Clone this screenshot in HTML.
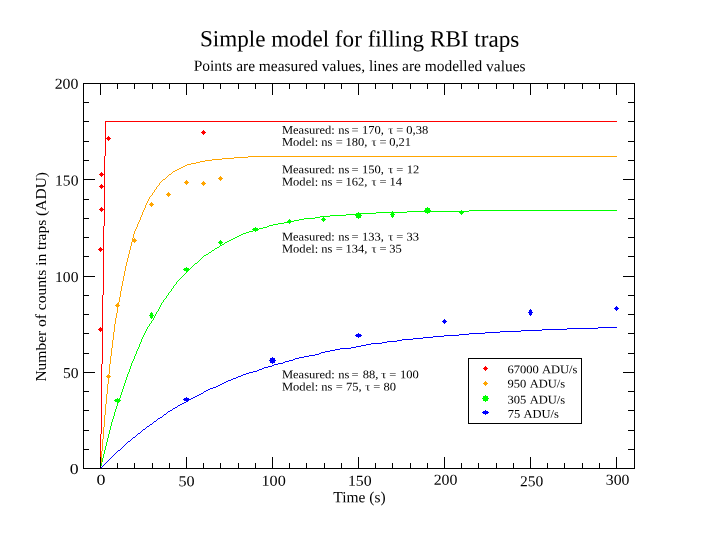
<!DOCTYPE html>
<html><head><meta charset="utf-8"><title>Simple model for filling RBI traps</title>
<style>html,body{margin:0;padding:0;background:#fff}svg{display:block;will-change:transform}text{font-family:"Liberation Serif",serif;fill:#000;white-space:pre}</style></head><body>
<svg width="713" height="551" viewBox="0 0 713 551">
<rect width="713" height="551" fill="#fff"/>
<path d="M598,327h19v1h-19zM567,328h31v1h-31zM542,329h25v1h-25zM521,330h21v1h-21zM500,331h21v1h-21zM485,332h15v1h-15zM469,333h16v1h-16zM459,334h10v1h-10zM444,335h15v1h-15zM433,336h11v1h-11zM423,337h10v1h-10zM413,338h10v1h-10zM402,339h11v1h-11zM397,340h5v1h-5zM387,341h10v1h-10zM382,342h5v1h-5zM371,343h11v1h-11zM366,344h5v1h-5zM361,345h5v1h-5zM356,346h5v1h-5zM351,347h5v1h-5zM340,348h11v1h-11zM335,349h5v1h-5zM330,350h5v1h-5zM325,351h5v1h-5zM321,352h4v1h-4zM319,353h2v1h-2zM315,354h4v1h-4zM309,355h6v1h-6zM304,356h5v1h-5zM299,357h5v1h-5zM295,358h4v1h-4zM293,359h2v1h-2zM289,360h4v1h-4zM285,361h4v1h-4zM283,362h2v1h-2zM278,363h5v1h-5zM274,364h4v1h-4zM272,365h2v1h-2zM268,366h4v1h-4zM264,367h4v1h-4zM262,368h2v1h-2zM259,369h3v1h-3zM257,370h2v1h-2zM253,371h4v1h-4zM249,372h4v1h-4zM246,373h3v1h-3zM243,374h3v1h-3zM241,375h2v1h-2zM238,376h3v1h-3zM236,377h2v1h-2zM233,378h3v1h-3zM231,379h2v1h-2zM228,380h3v1h-3zM226,381h2v1h-2zM224,382h2v1h-2zM222,383h2v1h-2zM220,384h2v1h-2zM218,385h2v1h-2zM216,386h2v1h-2zM213,387h3v1h-3zM210,388h3v1h-3zM208,389h2v1h-2zM206,390h2v1h-2zM204,391h2v1h-2zM203,392h1v1h-1zM201,393h2v1h-2zM199,394h2v1h-2zM197,395h2v1h-2zM195,396h2v1h-2zM193,397h2v1h-2zM191,398h2v1h-2zM189,399h2v1h-2zM188,400h1v1h-1zM186,401h2v1h-2zM184,402h2v1h-2zM182,403h2v1h-2zM180,404h2v1h-2zM178,405h2v1h-2zM177,406h1v1h-1zM175,407h2v1h-2zM173,408h2v1h-2zM172,409h1v1h-1zM170,410h2v1h-2zM168,411h2v1h-2zM167,412h1v1h-1zM166,413h1v1h-1zM164,414h2v1h-2zM163,415h1v1h-1zM162,416h1v1h-1zM160,417h2v1h-2zM158,418h2v1h-2zM157,419h1v1h-1zM156,420h1v1h-1zM154,421h2v1h-2zM153,422h1v1h-1zM152,423h1v1h-1zM150,424h2v1h-2zM149,425h1v1h-1zM147,426h2v1h-2zM146,427h1v1h-1zM145,428h1v1h-1zM143,429h2v1h-2zM142,430h1v1h-1zM141,431h1v1h-1zM140,432h1v1h-1zM138,433h2v1h-2zM137,434h1v1h-1zM136,435h1v1h-1zM135,436h1v1h-1zM133,437h2v1h-2zM132,438h1v1h-1zM131,439h1v1h-1zM130,440h1v1h-1zM128,441h2v1h-2zM127,442h1v1h-1zM126,443h1v1h-1zM125,444h1v1h-1zM124,445h1v1h-1zM123,446h1v1h-1zM122,447h1v1h-1zM121,448h1v1h-1zM120,449h1v1h-1zM118,450h2v1h-2zM117,451h1v1h-1zM116,452h1v1h-1zM115,453h1v1h-1zM114,454h1v1h-1zM113,455h1v1h-1zM112,456h1v1h-1zM111,457h1v1h-1zM110,458h1v1h-1zM109,459h1v1h-1zM108,460h1v1h-1zM107,461h1v1h-1zM106,462h1v1h-1zM105,463h1v1h-1zM104,464h1v1h-1zM103,465h1v1h-1zM102,466h1v1h-1zM101,467h1v1h-1zM100,468h1v1h-1z" fill="#0000ff" shape-rendering="crispEdges"/>
<path d="M469,210h148v1h-148zM407,211h62v1h-62zM376,212h31v1h-31zM356,213h20v1h-20zM346,214h10v1h-10zM330,215h16v1h-16zM320,216h10v1h-10zM315,217h5v1h-5zM304,218h11v1h-11zM299,219h5v1h-5zM294,220h5v1h-5zM289,221h5v1h-5zM284,222h5v1h-5zM278,223h6v1h-6zM273,224h5v1h-5zM269,225h4v1h-4zM267,226h2v1h-2zM263,227h4v1h-4zM259,228h4v1h-4zM257,229h2v1h-2zM253,230h4v1h-4zM249,231h4v1h-4zM246,232h3v1h-3zM243,233h3v1h-3zM241,234h2v1h-2zM239,235h2v1h-2zM237,236h2v1h-2zM235,237h2v1h-2zM233,238h2v1h-2zM231,239h2v1h-2zM229,240h2v1h-2zM227,241h2v1h-2zM225,242h2v1h-2zM224,243h1v1h-1zM222,244h2v1h-2zM220,245h2v1h-2zM219,246h1v1h-1zM217,247h2v1h-2zM215,248h2v1h-2zM214,249h1v1h-1zM212,250h2v1h-2zM211,251h1v1h-1zM209,252h2v1h-2zM208,253h1v1h-1zM206,254h2v1h-2zM204,255h2v1h-2zM203,256h1v1h-1zM202,257h1v1h-1zM201,258h1v1h-1zM200,259h1v1h-1zM199,260h1v1h-1zM198,261h1v1h-1zM197,262h1v1h-1zM195,263h2v1h-2zM194,264h1v1h-1zM193,265h1v1h-1zM192,266h1v1h-1zM191,267h1v1h-1zM190,268h1v1h-1zM189,269h1v1h-1zM188,270h1v1h-1zM187,271h1v1h-1zM186,272h1v1h-1zM185,273h1v1h-1zM184,274h1v1h-1zM183,275h1v1h-1zM182,276h1v1h-1zM181,277h1v1h-1zM180,278h1v1h-1zM179,279h1v1h-1zM178,280h1v1h-1zM177,281h1v1h-1zM176,282h1v1h-1zM176,283h1v1h-1zM175,284h1v1h-1zM174,285h1v1h-1zM173,286h1v1h-1zM173,287h1v1h-1zM172,288h1v1h-1zM171,289h1v1h-1zM171,290h1v1h-1zM170,291h1v1h-1zM169,292h1v1h-1zM168,293h1v1h-1zM168,294h1v1h-1zM167,295h1v1h-1zM166,296h1v1h-1zM166,297h1v1h-1zM165,298h1v1h-1zM164,299h1v1h-1zM163,300h1v1h-1zM163,301h1v1h-1zM162,302h1v1h-1zM161,303h1v1h-1zM161,304h1v1h-1zM160,305h1v1h-1zM160,306h1v1h-1zM159,307h1v1h-1zM159,308h1v1h-1zM158,309h1v1h-1zM158,310h1v1h-1zM157,311h1v1h-1zM156,312h1v1h-1zM156,313h1v1h-1zM155,314h1v1h-1zM155,315h1v1h-1zM154,316h1v1h-1zM154,317h1v1h-1zM153,318h1v1h-1zM153,319h1v1h-1zM152,320h1v1h-1zM151,321h1v1h-1zM151,322h1v1h-1zM150,323h1v1h-1zM149,324h1v1h-1zM149,325h1v1h-1zM148,326h1v1h-1zM147,327h1v1h-1zM147,328h1v1h-1zM146,329h1v1h-1zM146,330h1v1h-1zM145,331h1v1h-1zM145,332h1v1h-1zM144,333h1v1h-1zM144,334h1v1h-1zM143,335h1v1h-1zM143,336h1v1h-1zM142,337h1v1h-1zM142,338h1v1h-1zM141,339h1v1h-1zM141,340h1v1h-1zM141,341h1v1h-1zM140,342h1v1h-1zM140,343h1v1h-1zM139,344h1v1h-1zM139,345h1v1h-1zM139,346h1v1h-1zM138,347h1v1h-1zM138,348h1v1h-1zM137,349h1v1h-1zM137,350h1v1h-1zM136,351h1v1h-1zM136,352h1v1h-1zM136,353h1v1h-1zM135,354h1v1h-1zM135,355h1v1h-1zM134,356h1v1h-1zM134,357h1v1h-1zM134,358h1v1h-1zM133,359h1v1h-1zM133,360h1v1h-1zM132,361h1v1h-1zM132,362h1v1h-1zM131,363h1v1h-1zM131,364h1v1h-1zM131,365h1v1h-1zM130,366h1v1h-1zM130,367h1v1h-1zM130,368h1v1h-1zM129,369h1v1h-1zM129,370h1v1h-1zM129,371h1v1h-1zM128,372h1v1h-1zM128,373h1v1h-1zM127,374h1v1h-1zM127,375h1v1h-1zM127,376h1v1h-1zM126,377h1v1h-1zM126,378h1v1h-1zM126,379h1v1h-1zM125,380h1v1h-1zM125,381h1v1h-1zM125,382h1v1h-1zM124,383h1v1h-1zM124,384h1v1h-1zM124,385h1v1h-1zM123,386h1v1h-1zM123,387h1v1h-1zM123,388h1v1h-1zM122,389h1v1h-1zM122,390h1v1h-1zM122,391h1v1h-1zM121,392h1v1h-1zM121,393h1v1h-1zM121,394h1v1h-1zM120,395h1v1h-1zM120,396h1v1h-1zM120,397h1v1h-1zM119,398h1v1h-1zM119,399h1v1h-1zM119,400h1v1h-1zM118,401h1v1h-1zM118,402h1v1h-1zM117,403h1v1h-1zM117,404h1v1h-1zM117,405h1v1h-1zM116,406h1v1h-1zM116,407h1v1h-1zM116,408h1v1h-1zM115,409h1v1h-1zM115,410h1v1h-1zM115,411h1v1h-1zM114,412h1v1h-1zM114,413h1v1h-1zM114,414h1v1h-1zM114,415h1v1h-1zM113,416h1v1h-1zM113,417h1v1h-1zM113,418h1v1h-1zM112,419h1v1h-1zM112,420h1v1h-1zM112,421h1v1h-1zM111,422h1v1h-1zM111,423h1v1h-1zM111,424h1v1h-1zM111,425h1v1h-1zM110,426h1v1h-1zM110,427h1v1h-1zM110,428h1v1h-1zM110,429h1v1h-1zM109,430h1v1h-1zM109,431h1v1h-1zM109,432h1v1h-1zM109,433h1v1h-1zM108,434h1v1h-1zM108,435h1v1h-1zM108,436h1v1h-1zM108,437h1v1h-1zM107,438h1v1h-1zM107,439h1v1h-1zM107,440h1v1h-1zM107,441h1v1h-1zM106,442h1v1h-1zM106,443h1v1h-1zM106,444h1v1h-1zM106,445h1v1h-1zM105,446h1v1h-1zM105,447h1v1h-1zM105,448h1v1h-1zM105,449h1v1h-1zM104,450h1v1h-1zM104,451h1v1h-1zM104,452h1v1h-1zM104,453h1v1h-1zM103,454h1v1h-1zM103,455h1v1h-1zM103,456h1v1h-1zM103,457h1v1h-1zM102,458h1v1h-1zM102,459h1v1h-1zM102,460h1v1h-1zM102,461h1v1h-1zM101,462h1v1h-1zM101,463h1v1h-1zM101,464h1v1h-1zM101,465h1v1h-1zM100,466h1v1h-1zM100,467h1v1h-1zM100,468h1v1h-1z" fill="#00ff00" shape-rendering="crispEdges"/>
<path d="M248,156h369v1h-369zM234,157h14v1h-14zM222,158h12v1h-12zM212,159h10v1h-10zM205,160h7v1h-7zM200,161h5v1h-5zM196,162h4v1h-4zM191,163h5v1h-5zM187,164h4v1h-4zM185,165h2v1h-2zM183,166h2v1h-2zM181,167h2v1h-2zM179,168h2v1h-2zM177,169h2v1h-2zM175,170h2v1h-2zM173,171h2v1h-2zM172,172h1v1h-1zM171,173h1v1h-1zM169,174h2v1h-2zM168,175h1v1h-1zM167,176h1v1h-1zM166,177h1v1h-1zM165,178h1v1h-1zM163,179h2v1h-2zM162,180h1v1h-1zM161,181h1v1h-1zM160,182h1v1h-1zM159,183h1v1h-1zM159,184h1v1h-1zM158,185h1v1h-1zM157,186h1v1h-1zM156,187h1v1h-1zM156,188h1v1h-1zM155,189h1v1h-1zM154,190h1v1h-1zM154,191h1v1h-1zM153,192h1v1h-1zM152,193h1v1h-1zM152,194h1v1h-1zM151,195h1v1h-1zM150,196h1v1h-1zM149,197h1v1h-1zM149,198h1v1h-1zM148,199h1v1h-1zM148,200h1v1h-1zM147,201h1v1h-1zM147,202h1v1h-1zM146,203h1v1h-1zM146,204h1v1h-1zM145,205h1v1h-1zM145,206h1v1h-1zM145,207h1v1h-1zM144,208h1v1h-1zM144,209h1v1h-1zM143,210h1v1h-1zM143,211h1v1h-1zM142,212h1v1h-1zM142,213h1v1h-1zM142,214h1v1h-1zM141,215h1v1h-1zM141,216h1v1h-1zM140,217h1v1h-1zM140,218h1v1h-1zM140,219h1v1h-1zM139,220h1v1h-1zM139,221h1v1h-1zM138,222h1v1h-1zM138,223h1v1h-1zM137,224h1v1h-1zM137,225h1v1h-1zM137,226h1v1h-1zM136,227h1v1h-1zM136,228h1v1h-1zM135,229h1v1h-1zM135,230h1v1h-1zM134,231h1v1h-1zM134,232h1v1h-1zM134,233h1v1h-1zM133,234h1v1h-1zM133,235h1v1h-1zM133,236h1v1h-1zM133,237h1v1h-1zM132,238h1v1h-1zM132,239h1v1h-1zM132,240h1v1h-1zM132,241h1v1h-1zM131,242h1v1h-1zM131,243h1v1h-1zM131,244h1v1h-1zM131,245h1v1h-1zM130,246h1v1h-1zM130,247h1v1h-1zM130,248h1v1h-1zM130,249h1v1h-1zM129,250h1v1h-1zM129,251h1v1h-1zM129,252h1v1h-1zM129,253h1v1h-1zM128,254h1v1h-1zM128,255h1v1h-1zM128,256h1v1h-1zM128,257h1v1h-1zM127,258h1v1h-1zM127,259h1v1h-1zM127,260h1v1h-1zM127,261h1v1h-1zM126,262h1v1h-1zM126,263h1v1h-1zM126,264h1v1h-1zM126,265h1v1h-1zM125,266h1v1h-1zM125,267h1v1h-1zM125,268h1v1h-1zM125,269h1v1h-1zM125,270h1v1h-1zM124,271h1v1h-1zM124,272h1v1h-1zM124,273h1v1h-1zM124,274h1v1h-1zM124,275h1v1h-1zM123,276h1v1h-1zM123,277h1v1h-1zM123,278h1v1h-1zM123,279h1v1h-1zM123,280h1v1h-1zM122,281h1v1h-1zM122,282h1v1h-1zM122,283h1v1h-1zM122,284h1v1h-1zM122,285h1v1h-1zM121,286h1v1h-1zM121,287h1v1h-1zM121,288h1v1h-1zM121,289h1v1h-1zM121,290h1v1h-1zM120,291h1v1h-1zM120,292h1v1h-1zM120,293h1v1h-1zM120,294h1v1h-1zM120,295h1v1h-1zM120,296h1v1h-1zM119,297h1v1h-1zM119,298h1v1h-1zM119,299h1v1h-1zM119,300h1v1h-1zM119,301h1v1h-1zM118,302h1v1h-1zM118,303h1v1h-1zM118,304h1v1h-1zM118,305h1v1h-1zM118,306h1v1h-1zM117,307h1v1h-1zM117,308h1v1h-1zM117,309h1v1h-1zM117,310h1v1h-1zM117,311h1v1h-1zM117,312h1v1h-1zM116,313h1v1h-1zM116,314h1v1h-1zM116,315h1v1h-1zM116,316h1v1h-1zM116,317h1v1h-1zM115,318h1v1h-1zM115,319h1v1h-1zM115,320h1v1h-1zM115,321h1v1h-1zM115,322h1v1h-1zM115,323h1v1h-1zM114,324h1v1h-1zM114,325h1v1h-1zM114,326h1v1h-1zM114,327h1v1h-1zM114,328h1v1h-1zM114,329h1v1h-1zM114,330h1v1h-1zM114,331h1v1h-1zM113,332h1v1h-1zM113,333h1v1h-1zM113,334h1v1h-1zM113,335h1v1h-1zM113,336h1v1h-1zM113,337h1v1h-1zM113,338h1v1h-1zM113,339h1v1h-1zM112,340h1v1h-1zM112,341h1v1h-1zM112,342h1v1h-1zM112,343h1v1h-1zM112,344h1v1h-1zM112,345h1v1h-1zM112,346h1v1h-1zM112,347h1v1h-1zM111,348h1v1h-1zM111,349h1v1h-1zM111,350h1v1h-1zM111,351h1v1h-1zM111,352h1v1h-1zM111,353h1v1h-1zM111,354h1v1h-1zM111,355h1v1h-1zM110,356h1v1h-1zM110,357h1v1h-1zM110,358h1v1h-1zM110,359h1v1h-1zM110,360h1v1h-1zM110,361h1v1h-1zM110,362h1v1h-1zM110,363h1v1h-1zM109,364h1v1h-1zM109,365h1v1h-1zM109,366h1v1h-1zM109,367h1v1h-1zM109,368h1v1h-1zM109,369h1v1h-1zM109,370h1v1h-1zM109,371h1v1h-1zM109,372h1v1h-1zM109,373h1v1h-1zM108,374h1v1h-1zM108,375h1v1h-1zM108,376h1v1h-1zM108,377h1v1h-1zM108,378h1v1h-1zM108,379h1v1h-1zM108,380h1v1h-1zM108,381h1v1h-1zM108,382h1v1h-1zM108,383h1v1h-1zM107,384h1v1h-1zM107,385h1v1h-1zM107,386h1v1h-1zM107,387h1v1h-1zM107,388h1v1h-1zM107,389h1v1h-1zM107,390h1v1h-1zM107,391h1v1h-1zM107,392h1v1h-1zM107,393h1v1h-1zM106,394h1v1h-1zM106,395h1v1h-1zM106,396h1v1h-1zM106,397h1v1h-1zM106,398h1v1h-1zM106,399h1v1h-1zM106,400h1v1h-1zM106,401h1v1h-1zM106,402h1v1h-1zM106,403h1v1h-1zM105,404h1v1h-1zM105,405h1v1h-1zM105,406h1v1h-1zM105,407h1v1h-1zM105,408h1v1h-1zM105,409h1v1h-1zM105,410h1v1h-1zM105,411h1v1h-1zM105,412h1v1h-1zM105,413h1v1h-1zM105,414h1v1h-1zM104,415h1v1h-1zM104,416h1v1h-1zM104,417h1v1h-1zM104,418h1v1h-1zM104,419h1v1h-1zM104,420h1v1h-1zM104,421h1v1h-1zM104,422h1v1h-1zM104,423h1v1h-1zM104,424h1v1h-1zM104,425h1v1h-1zM104,426h1v1h-1zM103,427h1v1h-1zM103,428h1v1h-1zM103,429h1v1h-1zM103,430h1v1h-1zM103,431h1v1h-1zM103,432h1v1h-1zM103,433h1v1h-1zM103,434h1v1h-1zM103,435h1v1h-1zM103,436h1v1h-1zM103,437h1v1h-1zM103,438h1v1h-1zM102,439h1v1h-1zM102,440h1v1h-1zM102,441h1v1h-1zM102,442h1v1h-1zM102,443h1v1h-1zM102,444h1v1h-1zM102,445h1v1h-1zM102,446h1v1h-1zM102,447h1v1h-1zM102,448h1v1h-1zM102,449h1v1h-1zM102,450h1v1h-1zM101,451h1v1h-1zM101,452h1v1h-1zM101,453h1v1h-1zM101,454h1v1h-1zM101,455h1v1h-1zM101,456h1v1h-1zM101,457h1v1h-1zM101,458h1v1h-1zM101,459h1v1h-1zM101,460h1v1h-1zM101,461h1v1h-1zM101,462h1v1h-1zM100,463h1v1h-1zM100,464h1v1h-1zM100,465h1v1h-1zM100,466h1v1h-1zM100,467h1v1h-1zM100,468h1v1h-1z" fill="#ffa500" shape-rendering="crispEdges"/>
<path d="M105,121h512v1h-512zM105,122h1v1h-1zM105,123h1v1h-1zM105,124h1v1h-1zM105,125h1v1h-1zM105,126h1v1h-1zM105,127h1v1h-1zM105,128h1v1h-1zM105,129h1v1h-1zM105,130h1v1h-1zM105,131h1v1h-1zM105,132h1v1h-1zM105,133h1v1h-1zM105,134h1v1h-1zM105,135h1v1h-1zM105,136h1v1h-1zM105,137h1v1h-1zM105,138h1v1h-1zM105,139h1v1h-1zM105,140h1v1h-1zM105,141h1v1h-1zM105,142h1v1h-1zM105,143h1v1h-1zM105,144h1v1h-1zM105,145h1v1h-1zM105,146h1v1h-1zM105,147h1v1h-1zM105,148h1v1h-1zM105,149h1v1h-1zM105,150h1v1h-1zM105,151h1v1h-1zM105,152h1v1h-1zM105,153h1v1h-1zM105,154h1v1h-1zM105,155h1v1h-1zM104,156h1v1h-1zM104,157h1v1h-1zM104,158h1v1h-1zM104,159h1v1h-1zM104,160h1v1h-1zM104,161h1v1h-1zM104,162h1v1h-1zM104,163h1v1h-1zM104,164h1v1h-1zM104,165h1v1h-1zM104,166h1v1h-1zM104,167h1v1h-1zM104,168h1v1h-1zM104,169h1v1h-1zM104,170h1v1h-1zM104,171h1v1h-1zM104,172h1v1h-1zM104,173h1v1h-1zM104,174h1v1h-1zM104,175h1v1h-1zM104,176h1v1h-1zM104,177h1v1h-1zM104,178h1v1h-1zM104,179h1v1h-1zM104,180h1v1h-1zM104,181h1v1h-1zM104,182h1v1h-1zM104,183h1v1h-1zM104,184h1v1h-1zM104,185h1v1h-1zM104,186h1v1h-1zM104,187h1v1h-1zM104,188h1v1h-1zM104,189h1v1h-1zM104,190h1v1h-1zM104,191h1v1h-1zM104,192h1v1h-1zM104,193h1v1h-1zM104,194h1v1h-1zM104,195h1v1h-1zM104,196h1v1h-1zM104,197h1v1h-1zM104,198h1v1h-1zM104,199h1v1h-1zM104,200h1v1h-1zM104,201h1v1h-1zM104,202h1v1h-1zM104,203h1v1h-1zM104,204h1v1h-1zM104,205h1v1h-1zM104,206h1v1h-1zM104,207h1v1h-1zM104,208h1v1h-1zM104,209h1v1h-1zM104,210h1v1h-1zM104,211h1v1h-1zM104,212h1v1h-1zM104,213h1v1h-1zM104,214h1v1h-1zM104,215h1v1h-1zM104,216h1v1h-1zM104,217h1v1h-1zM104,218h1v1h-1zM104,219h1v1h-1zM104,220h1v1h-1zM104,221h1v1h-1zM104,222h1v1h-1zM104,223h1v1h-1zM104,224h1v1h-1zM104,225h1v1h-1zM103,226h1v1h-1zM103,227h1v1h-1zM103,228h1v1h-1zM103,229h1v1h-1zM103,230h1v1h-1zM103,231h1v1h-1zM103,232h1v1h-1zM103,233h1v1h-1zM103,234h1v1h-1zM103,235h1v1h-1zM103,236h1v1h-1zM103,237h1v1h-1zM103,238h1v1h-1zM103,239h1v1h-1zM103,240h1v1h-1zM103,241h1v1h-1zM103,242h1v1h-1zM103,243h1v1h-1zM103,244h1v1h-1zM103,245h1v1h-1zM103,246h1v1h-1zM103,247h1v1h-1zM103,248h1v1h-1zM103,249h1v1h-1zM103,250h1v1h-1zM103,251h1v1h-1zM103,252h1v1h-1zM103,253h1v1h-1zM103,254h1v1h-1zM103,255h1v1h-1zM103,256h1v1h-1zM103,257h1v1h-1zM103,258h1v1h-1zM103,259h1v1h-1zM103,260h1v1h-1zM103,261h1v1h-1zM103,262h1v1h-1zM103,263h1v1h-1zM103,264h1v1h-1zM103,265h1v1h-1zM103,266h1v1h-1zM103,267h1v1h-1zM103,268h1v1h-1zM103,269h1v1h-1zM103,270h1v1h-1zM103,271h1v1h-1zM103,272h1v1h-1zM103,273h1v1h-1zM103,274h1v1h-1zM103,275h1v1h-1zM103,276h1v1h-1zM103,277h1v1h-1zM103,278h1v1h-1zM103,279h1v1h-1zM103,280h1v1h-1zM103,281h1v1h-1zM103,282h1v1h-1zM103,283h1v1h-1zM103,284h1v1h-1zM103,285h1v1h-1zM103,286h1v1h-1zM103,287h1v1h-1zM103,288h1v1h-1zM103,289h1v1h-1zM103,290h1v1h-1zM103,291h1v1h-1zM103,292h1v1h-1zM103,293h1v1h-1zM103,294h1v1h-1zM102,295h1v1h-1zM102,296h1v1h-1zM102,297h1v1h-1zM102,298h1v1h-1zM102,299h1v1h-1zM102,300h1v1h-1zM102,301h1v1h-1zM102,302h1v1h-1zM102,303h1v1h-1zM102,304h1v1h-1zM102,305h1v1h-1zM102,306h1v1h-1zM102,307h1v1h-1zM102,308h1v1h-1zM102,309h1v1h-1zM102,310h1v1h-1zM102,311h1v1h-1zM102,312h1v1h-1zM102,313h1v1h-1zM102,314h1v1h-1zM102,315h1v1h-1zM102,316h1v1h-1zM102,317h1v1h-1zM102,318h1v1h-1zM102,319h1v1h-1zM102,320h1v1h-1zM102,321h1v1h-1zM102,322h1v1h-1zM102,323h1v1h-1zM102,324h1v1h-1zM102,325h1v1h-1zM102,326h1v1h-1zM102,327h1v1h-1zM102,328h1v1h-1zM102,329h1v1h-1zM102,330h1v1h-1zM102,331h1v1h-1zM102,332h1v1h-1zM102,333h1v1h-1zM102,334h1v1h-1zM102,335h1v1h-1zM102,336h1v1h-1zM102,337h1v1h-1zM102,338h1v1h-1zM102,339h1v1h-1zM102,340h1v1h-1zM102,341h1v1h-1zM102,342h1v1h-1zM102,343h1v1h-1zM102,344h1v1h-1zM102,345h1v1h-1zM102,346h1v1h-1zM102,347h1v1h-1zM102,348h1v1h-1zM102,349h1v1h-1zM102,350h1v1h-1zM102,351h1v1h-1zM102,352h1v1h-1zM102,353h1v1h-1zM102,354h1v1h-1zM102,355h1v1h-1zM102,356h1v1h-1zM102,357h1v1h-1zM102,358h1v1h-1zM102,359h1v1h-1zM102,360h1v1h-1zM102,361h1v1h-1zM102,362h1v1h-1zM102,363h1v1h-1zM101,364h1v1h-1zM101,365h1v1h-1zM101,366h1v1h-1zM101,367h1v1h-1zM101,368h1v1h-1zM101,369h1v1h-1zM101,370h1v1h-1zM101,371h1v1h-1zM101,372h1v1h-1zM101,373h1v1h-1zM101,374h1v1h-1zM101,375h1v1h-1zM101,376h1v1h-1zM101,377h1v1h-1zM101,378h1v1h-1zM101,379h1v1h-1zM101,380h1v1h-1zM101,381h1v1h-1zM101,382h1v1h-1zM101,383h1v1h-1zM101,384h1v1h-1zM101,385h1v1h-1zM101,386h1v1h-1zM101,387h1v1h-1zM101,388h1v1h-1zM101,389h1v1h-1zM101,390h1v1h-1zM101,391h1v1h-1zM101,392h1v1h-1zM101,393h1v1h-1zM101,394h1v1h-1zM101,395h1v1h-1zM101,396h1v1h-1zM101,397h1v1h-1zM101,398h1v1h-1zM101,399h1v1h-1zM101,400h1v1h-1zM101,401h1v1h-1zM101,402h1v1h-1zM101,403h1v1h-1zM101,404h1v1h-1zM101,405h1v1h-1zM101,406h1v1h-1zM101,407h1v1h-1zM101,408h1v1h-1zM101,409h1v1h-1zM101,410h1v1h-1zM101,411h1v1h-1zM101,412h1v1h-1zM101,413h1v1h-1zM101,414h1v1h-1zM101,415h1v1h-1zM101,416h1v1h-1zM101,417h1v1h-1zM101,418h1v1h-1zM101,419h1v1h-1zM101,420h1v1h-1zM101,421h1v1h-1zM101,422h1v1h-1zM101,423h1v1h-1zM101,424h1v1h-1zM101,425h1v1h-1zM101,426h1v1h-1zM101,427h1v1h-1zM101,428h1v1h-1zM101,429h1v1h-1zM101,430h1v1h-1zM101,431h1v1h-1zM101,432h1v1h-1zM101,433h1v1h-1zM100,434h1v1h-1zM100,435h1v1h-1zM100,436h1v1h-1zM100,437h1v1h-1zM100,438h1v1h-1zM100,439h1v1h-1zM100,440h1v1h-1zM100,441h1v1h-1zM100,442h1v1h-1zM100,443h1v1h-1zM100,444h1v1h-1zM100,445h1v1h-1zM100,446h1v1h-1zM100,447h1v1h-1zM100,448h1v1h-1zM100,449h1v1h-1zM100,450h1v1h-1zM100,451h1v1h-1zM100,452h1v1h-1zM100,453h1v1h-1zM100,454h1v1h-1zM100,455h1v1h-1zM100,456h1v1h-1zM100,457h1v1h-1zM100,458h1v1h-1zM100,459h1v1h-1zM100,460h1v1h-1zM100,461h1v1h-1zM100,462h1v1h-1zM100,463h1v1h-1zM100,464h1v1h-1zM100,465h1v1h-1zM100,466h1v1h-1zM100,467h1v1h-1zM100,468h1v1h-1z" fill="#ff0000" shape-rendering="crispEdges"/>
<g stroke="#000" stroke-width="1" fill="none" shape-rendering="crispEdges">
<rect x="83.5" y="83.5" width="551" height="385"/>
<path d="M100.5,468v-11M100.5,84v11M117.5,468v-5M117.5,84v5M134.5,468v-5M134.5,84v5M152.5,468v-5M152.5,84v5M169.5,468v-5M169.5,84v5M186.5,468v-11M186.5,84v11M203.5,468v-5M203.5,84v5M220.5,468v-5M220.5,84v5M238.5,468v-5M238.5,84v5M255.5,468v-5M255.5,84v5M272.5,468v-11M272.5,84v11M289.5,468v-5M289.5,84v5M306.5,468v-5M306.5,84v5M324.5,468v-5M324.5,84v5M341.5,468v-5M341.5,84v5M358.5,468v-11M358.5,84v11M375.5,468v-5M375.5,84v5M392.5,468v-5M392.5,84v5M410.5,468v-5M410.5,84v5M427.5,468v-5M427.5,84v5M444.5,468v-11M444.5,84v11M461.5,468v-5M461.5,84v5M478.5,468v-5M478.5,84v5M496.5,468v-5M496.5,84v5M513.5,468v-5M513.5,84v5M530.5,468v-11M530.5,84v11M547.5,468v-5M547.5,84v5M564.5,468v-5M564.5,84v5M582.5,468v-5M582.5,84v5M599.5,468v-5M599.5,84v5M616.5,468v-11M616.5,84v11M84,449.5h5M634,449.5h-6M84,430.5h5M634,430.5h-6M84,410.5h5M634,410.5h-6M84,391.5h5M634,391.5h-6M84,372.5h11M634,372.5h-11M84,353.5h5M634,353.5h-6M84,333.5h5M634,333.5h-6M84,314.5h5M634,314.5h-6M84,295.5h5M634,295.5h-6M84,276.5h11M634,276.5h-11M84,256.5h5M634,256.5h-6M84,237.5h5M634,237.5h-6M84,218.5h5M634,218.5h-6M84,199.5h5M634,199.5h-6M84,179.5h11M634,179.5h-11M84,160.5h5M634,160.5h-6M84,141.5h5M634,141.5h-6M84,121.5h5M634,121.5h-6M84,102.5h5M634,102.5h-6"/>
</g>
<path d="M100,327h1v1h-1zM99,328h3v1h-3zM98,329h5v1h-5zM99,330h3v1h-3zM100,331h1v1h-1zM100,247h1v1h-1zM99,248h3v1h-3zM98,249h5v1h-5zM99,250h3v1h-3zM100,251h1v1h-1zM101,207h1v1h-1zM100,208h3v1h-3zM99,209h5v1h-5zM100,210h3v1h-3zM101,211h1v1h-1zM101,184h1v1h-1zM100,185h3v1h-3zM99,186h5v1h-5zM100,187h3v1h-3zM101,188h1v1h-1zM101,172h1v1h-1zM100,173h3v1h-3zM99,174h5v1h-5zM100,175h3v1h-3zM101,176h1v1h-1zM108,136h1v1h-1zM107,137h3v1h-3zM106,138h5v1h-5zM107,139h3v1h-3zM108,140h1v1h-1zM203,130h1v1h-1zM202,131h3v1h-3zM201,132h5v1h-5zM202,133h3v1h-3zM203,134h1v1h-1z" fill="#ff0000" shape-rendering="crispEdges"/>
<path d="M108,374h1v1h-1zM107,375h3v1h-3zM106,376h5v1h-5zM107,377h3v1h-3zM108,378h1v1h-1zM117,303h1v1h-1zM116,304h3v1h-3zM115,305h5v1h-5zM116,306h3v1h-3zM117,307h1v1h-1zM134,238h1v1h-1zM133,239h3v1h-3zM132,240h5v1h-5zM133,241h3v1h-3zM134,242h1v1h-1zM151,202h1v1h-1zM150,203h3v1h-3zM149,204h5v1h-5zM150,205h3v1h-3zM151,206h1v1h-1zM168,192h1v1h-1zM167,193h3v1h-3zM166,194h5v1h-5zM167,195h3v1h-3zM168,196h1v1h-1zM186,180h1v1h-1zM185,181h3v1h-3zM184,182h5v1h-5zM185,183h3v1h-3zM186,184h1v1h-1zM203,181h1v1h-1zM202,182h3v1h-3zM201,183h5v1h-5zM202,184h3v1h-3zM203,185h1v1h-1zM220,176h1v1h-1zM219,177h3v1h-3zM218,178h5v1h-5zM219,179h3v1h-3zM220,180h1v1h-1z" fill="#ffa500" shape-rendering="crispEdges"/>
<path d="M117,398h1v1h-1zM115,399h5v1h-5zM114,400h7v1h-7zM115,401h5v1h-5zM117,402h1v1h-1zM151,312h1v1h-1zM150,313h3v1h-3zM150,314h3v1h-3zM149,315h5v1h-5zM150,316h3v1h-3zM150,317h3v1h-3zM151,318h1v1h-1zM186,267h1v1h-1zM184,268h5v1h-5zM183,269h7v1h-7zM184,270h5v1h-5zM186,271h1v1h-1zM220,240h1v1h-1zM219,241h3v1h-3zM218,242h5v1h-5zM219,243h3v1h-3zM220,244h1v1h-1zM255,227h1v1h-1zM253,228h5v1h-5zM252,229h7v1h-7zM253,230h5v1h-5zM255,231h1v1h-1zM289,219h1v1h-1zM288,220h3v1h-3zM287,221h5v1h-5zM288,222h3v1h-3zM289,223h1v1h-1zM323,217h1v1h-1zM322,218h3v1h-3zM321,219h5v1h-5zM322,220h3v1h-3zM323,221h1v1h-1zM358,212h1v1h-1zM356,213h5v1h-5zM356,214h5v1h-5zM355,215h7v1h-7zM356,216h5v1h-5zM356,217h5v1h-5zM358,218h1v1h-1zM392,211h1v1h-1zM391,212h3v1h-3zM391,213h3v1h-3zM390,214h5v1h-5zM391,215h3v1h-3zM391,216h3v1h-3zM392,217h1v1h-1zM427,207h1v1h-1zM425,208h5v1h-5zM425,209h5v1h-5zM424,210h7v1h-7zM425,211h5v1h-5zM425,212h5v1h-5zM427,213h1v1h-1zM461,210h1v1h-1zM460,211h3v1h-3zM459,212h5v1h-5zM460,213h3v1h-3zM461,214h1v1h-1z" fill="#00ff00" shape-rendering="crispEdges"/>
<path d="M186,397h1v1h-1zM184,398h5v1h-5zM183,399h7v1h-7zM184,400h5v1h-5zM186,401h1v1h-1zM272,357h1v1h-1zM270,358h5v1h-5zM270,359h5v1h-5zM269,360h7v1h-7zM270,361h5v1h-5zM270,362h5v1h-5zM272,363h1v1h-1zM358,333h1v1h-1zM356,334h5v1h-5zM355,335h7v1h-7zM356,336h5v1h-5zM358,337h1v1h-1zM444,319h1v1h-1zM443,320h3v1h-3zM442,321h5v1h-5zM443,322h3v1h-3zM444,323h1v1h-1zM530,309h1v1h-1zM529,310h3v1h-3zM529,311h3v1h-3zM528,312h5v1h-5zM529,313h3v1h-3zM529,314h3v1h-3zM530,315h1v1h-1zM616,306h1v1h-1zM615,307h3v1h-3zM614,308h5v1h-5zM615,309h3v1h-3zM616,310h1v1h-1z" fill="#0000ff" shape-rendering="crispEdges"/>
<rect x="468.5" y="358.5" width="113" height="65" fill="#fff" stroke="#000" stroke-width="1" shape-rendering="crispEdges"/>
<path d="M485,366h1v1h-1zM484,367h3v1h-3zM483,368h5v1h-5zM484,369h3v1h-3zM485,370h1v1h-1z" fill="#ff0000" shape-rendering="crispEdges"/>
<path d="M485,381h1v1h-1zM484,382h3v1h-3zM483,383h5v1h-5zM484,384h3v1h-3zM485,385h1v1h-1z" fill="#ffa500" shape-rendering="crispEdges"/>
<path d="M485,395h1v1h-1zM483,396h5v1h-5zM483,397h5v1h-5zM482,398h7v1h-7zM483,399h5v1h-5zM483,400h5v1h-5zM485,401h1v1h-1z" fill="#00ff00" shape-rendering="crispEdges"/>
<path d="M485,410h1v1h-1zM483,411h5v1h-5zM482,412h7v1h-7zM483,413h5v1h-5zM485,414h1v1h-1z" fill="#0000ff" shape-rendering="crispEdges"/>
<text transform="matrix(1.0718 0.001 0 1 507.39 373.3)" font-size="11.7px">67000</text>
<text transform="matrix(1.0718 0.001 0 1 541.97 373.3)" font-size="11.7px">ADU/s</text>
<text transform="matrix(1.0718 0.001 0 1 507.57 387.45)" font-size="11.7px">950</text>
<text transform="matrix(1.0718 0.001 0 1 529.67 387.45)" font-size="11.7px">ADU/s</text>
<text transform="matrix(1.0718 0.001 0 1 507.52 403.6)" font-size="11.7px">305</text>
<text transform="matrix(1.0718 0.001 0 1 529.67 403.6)" font-size="11.7px">ADU/s</text>
<text transform="matrix(1.0718 0.001 0 1 507.70 417.7)" font-size="11.7px">75</text>
<text transform="matrix(1.0718 0.001 0 1 523.47 417.7)" font-size="11.7px">ADU/s</text>
<text transform="matrix(1.0718 0.001 0 1 281.93 133.7)" font-size="11.7px">Measured:</text>
<text transform="matrix(1.0718 0.001 0 1 338.16 133.7)" font-size="11.7px">ns</text>
<text transform="matrix(1.0718 0.001 0 1 351.46 133.7)" font-size="11.7px">=</text>
<text transform="matrix(1.0718 0.001 0 1 362.08 133.7)" font-size="11.7px">170,</text>
<text transform="matrix(1.0718 0.001 0 1 388.13 133.7)" font-size="11.7px">τ</text>
<text transform="matrix(1.0718 0.001 0 1 396.21 133.7)" font-size="11.7px">=</text>
<text transform="matrix(1.0718 0.001 0 1 406.25 133.7)" font-size="11.7px">0,38</text>
<text transform="matrix(1.0718 0.001 0 1 281.98 145.8)" font-size="11.7px">Model:</text>
<text transform="matrix(1.0718 0.001 0 1 321.36 145.8)" font-size="11.7px">ns</text>
<text transform="matrix(1.0718 0.001 0 1 335.86 145.8)" font-size="11.7px">=</text>
<text transform="matrix(1.0718 0.001 0 1 345.53 145.8)" font-size="11.7px">180,</text>
<text transform="matrix(1.0718 0.001 0 1 371.53 145.8)" font-size="11.7px">τ</text>
<text transform="matrix(1.0718 0.001 0 1 379.61 145.8)" font-size="11.7px">=</text>
<text transform="matrix(1.0718 0.001 0 1 389.16 145.8)" font-size="11.7px">0,21</text>
<text transform="matrix(1.0718 0.001 0 1 281.93 173.3)" font-size="11.7px">Measured:</text>
<text transform="matrix(1.0718 0.001 0 1 338.16 173.3)" font-size="11.7px">ns</text>
<text transform="matrix(1.0718 0.001 0 1 351.46 173.3)" font-size="11.7px">=</text>
<text transform="matrix(1.0718 0.001 0 1 362.08 173.3)" font-size="11.7px">150,</text>
<text transform="matrix(1.0718 0.001 0 1 388.13 173.3)" font-size="11.7px">τ</text>
<text transform="matrix(1.0718 0.001 0 1 396.21 173.3)" font-size="11.7px">=</text>
<text transform="matrix(1.0718 0.001 0 1 406.84 173.3)" font-size="11.7px">12</text>
<text transform="matrix(1.0718 0.001 0 1 281.98 185.6)" font-size="11.7px">Model:</text>
<text transform="matrix(1.0718 0.001 0 1 321.36 185.6)" font-size="11.7px">ns</text>
<text transform="matrix(1.0718 0.001 0 1 335.86 185.6)" font-size="11.7px">=</text>
<text transform="matrix(1.0718 0.001 0 1 345.53 185.6)" font-size="11.7px">162,</text>
<text transform="matrix(1.0718 0.001 0 1 371.53 185.6)" font-size="11.7px">τ</text>
<text transform="matrix(1.0718 0.001 0 1 379.61 185.6)" font-size="11.7px">=</text>
<text transform="matrix(1.0718 0.001 0 1 389.52 185.6)" font-size="11.7px">14</text>
<text transform="matrix(1.0718 0.001 0 1 281.93 240.4)" font-size="11.7px">Measured:</text>
<text transform="matrix(1.0718 0.001 0 1 338.16 240.4)" font-size="11.7px">ns</text>
<text transform="matrix(1.0718 0.001 0 1 351.46 240.4)" font-size="11.7px">=</text>
<text transform="matrix(1.0718 0.001 0 1 362.08 240.4)" font-size="11.7px">133,</text>
<text transform="matrix(1.0718 0.001 0 1 388.13 240.4)" font-size="11.7px">τ</text>
<text transform="matrix(1.0718 0.001 0 1 396.21 240.4)" font-size="11.7px">=</text>
<text transform="matrix(1.0718 0.001 0 1 406.60 240.4)" font-size="11.7px">33</text>
<text transform="matrix(1.0718 0.001 0 1 281.98 252.6)" font-size="11.7px">Model:</text>
<text transform="matrix(1.0718 0.001 0 1 321.36 252.6)" font-size="11.7px">ns</text>
<text transform="matrix(1.0718 0.001 0 1 335.86 252.6)" font-size="11.7px">=</text>
<text transform="matrix(1.0718 0.001 0 1 345.53 252.6)" font-size="11.7px">134,</text>
<text transform="matrix(1.0718 0.001 0 1 371.53 252.6)" font-size="11.7px">τ</text>
<text transform="matrix(1.0718 0.001 0 1 379.61 252.6)" font-size="11.7px">=</text>
<text transform="matrix(1.0718 0.001 0 1 389.30 252.6)" font-size="11.7px">35</text>
<text transform="matrix(1.0718 0.001 0 1 281.93 378.2)" font-size="11.7px">Measured:</text>
<text transform="matrix(1.0718 0.001 0 1 338.16 378.2)" font-size="11.7px">ns</text>
<text transform="matrix(1.0718 0.001 0 1 351.46 378.2)" font-size="11.7px">=</text>
<text transform="matrix(1.0718 0.001 0 1 362.74 378.2)" font-size="11.7px">88,</text>
<text transform="matrix(1.0718 0.001 0 1 381.13 378.2)" font-size="11.7px">τ</text>
<text transform="matrix(1.0718 0.001 0 1 389.21 378.2)" font-size="11.7px">=</text>
<text transform="matrix(1.0718 0.001 0 1 399.90 378.2)" font-size="11.7px">100</text>
<text transform="matrix(1.0718 0.001 0 1 281.98 390.4)" font-size="11.7px">Model:</text>
<text transform="matrix(1.0718 0.001 0 1 321.36 390.4)" font-size="11.7px">ns</text>
<text transform="matrix(1.0718 0.001 0 1 335.86 390.4)" font-size="11.7px">=</text>
<text transform="matrix(1.0718 0.001 0 1 345.88 390.4)" font-size="11.7px">75,</text>
<text transform="matrix(1.0718 0.001 0 1 365.18 390.4)" font-size="11.7px">τ</text>
<text transform="matrix(1.0718 0.001 0 1 373.26 390.4)" font-size="11.7px">=</text>
<text transform="matrix(1.0718 0.001 0 1 383.55 390.4)" font-size="11.7px">80</text>
<text transform="matrix(1.1818 0.001 0 1 96.51 484.8)" font-size="15.2px">0</text>
<text transform="matrix(1.0647 0.001 0 1 178.45 486.2)" font-size="15.2px">50</text>
<text transform="matrix(1.0667 0.001 0 1 261.51 485.7)" font-size="15.2px">100</text>
<text transform="matrix(1.0429 0.001 0 1 347.94 485.7)" font-size="15.2px">150</text>
<text transform="matrix(1.0461 0.001 0 1 433.67 484.8)" font-size="15.2px">200</text>
<text transform="matrix(1.0230 0.001 0 1 519.99 486.2)" font-size="15.2px">250</text>
<text transform="matrix(1.0370 0.001 0 1 605.87 484.8)" font-size="15.2px">300</text>
<text transform="matrix(1.1667 0.001 0 1 69.72 474)" font-size="15.2px">0</text>
<text transform="matrix(1.0288 0.001 0 1 62.88 378)" font-size="15.2px">50</text>
<text transform="matrix(1.0286 0.001 0 1 55.06 282)" font-size="15.2px">100</text>
<text transform="matrix(1.0286 0.001 0 1 55.06 185.6)" font-size="15.2px">150</text>
<text transform="matrix(1.0415 0.001 0 1 54.68 88.8)" font-size="15.2px">200</text>
<text transform="matrix(1 0.001 0 1 359.6 46.5)" font-size="23.15px" text-anchor="middle">Simple model for filling RBI traps</text>
<text transform="matrix(1 0.001 0 1 359.6 71)" font-size="15.45px" text-anchor="middle">Points are measured values, lines are modelled values</text>
<text transform="matrix(1 0.001 0 1 359.5 502.2)" font-size="15.5px" text-anchor="middle">Time (s)</text>
<text transform="translate(45.5,276.8) rotate(-90)" font-size="15.5px" text-anchor="middle">Number of counts in traps (ADU)</text>
</svg></body></html>
